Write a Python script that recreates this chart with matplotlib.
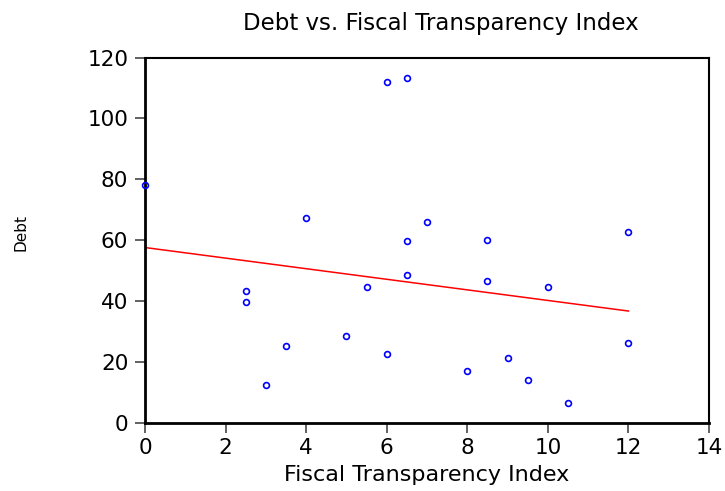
import matplotlib
matplotlib.use("Agg")
import matplotlib.pyplot as plt
import numpy as np

plt.rcParams['font.family'] = ['DejaVu Sans']

fti = [0, 6, 6.5, 4, 7, 6.5, 8.5, 12, 2.5, 2.5, 5.5, 6.5, 8.5, 10,
       3.5, 5, 6, 3, 8, 9, 9.5, 10.5, 12]
debt = [78.1, 112.0, 113.2, 67.3, 65.9, 59.6, 59.9, 62.8, 43.3, 39.6, 44.5, 48.5, 46.4, 44.5,
        25.2, 28.4, 22.4, 12.3, 16.8, 21.1, 13.9, 6.3, 26.3]

x = np.array(fti)
y = np.array(debt)
slope, intercept = np.polyfit(x, y, 1)
xl = np.array([x.min(), x.max()])

fig = plt.figure(figsize=(7.25, 4.91), dpi=100)
ax = fig.add_axes([0.2, 0.1395, 0.778, 0.743])
ax.plot(x, y, linestyle='none', marker='o', markersize=4.2, markerfacecolor='none',
        markeredgecolor='#0000ff', markeredgewidth=1.2, clip_on=False, zorder=3)
ax.plot(xl, intercept + slope * xl, color='#ff0000', linewidth=1.1, zorder=2)

ax.set_xlim(0, 14)
ax.set_ylim(0, 120)
ax.set_xticks(np.arange(0, 15, 2))
ax.set_yticks(np.arange(0, 121, 20))
for k, s in ax.spines.items():
    s.set_color('black')
    s.set_linewidth(2.0 if k in ('left', 'bottom') else 1.5)
ax.tick_params(direction='out', length=7, width=1.3, color='#555555', labelsize=15.5)
ax.tick_params(axis='x', pad=4)
ax.tick_params(axis='y', pad=5)
ax.set_title('Debt vs. Fiscal Transparency Index', fontsize=16.5, pad=20, x=0.525)
ax.set_xlabel('Fiscal Transparency Index', fontsize=16, labelpad=5)
ax.set_ylabel('Debt', fontsize=11)
ax.yaxis.set_label_coords(-0.207, 0.522)

fig.savefig('out.png', dpi=100)
